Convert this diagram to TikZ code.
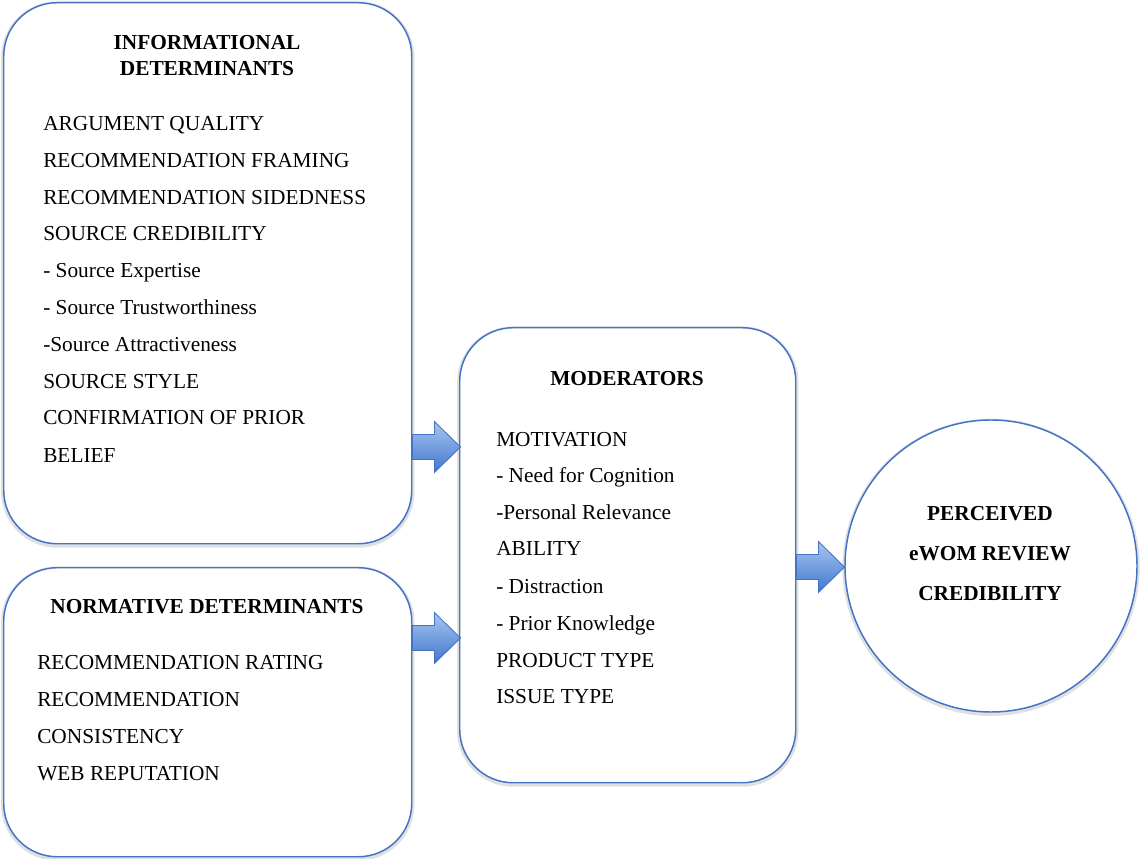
\documentclass[tikz,border=0pt]{standalone}
\usepackage{fontspec}
\setmainfont{Liberation Serif}
\definecolor{edge}{RGB}{68,114,196}
\definecolor{arrtop}{RGB}{165,198,240}
\definecolor{arrbot}{RGB}{66,118,205}
\begin{document}
\begin{tikzpicture}[x=0.75pt,y=-0.75pt,
  box/.style={draw=edge,line width=1.1pt,rounded corners=40pt,fill=white,
    inner sep=0pt,anchor=north west,
    preaction={draw=black!12,line width=4pt,transform canvas={yshift=-1pt}}},
  circ/.style={draw=edge,line width=1.1pt,circle,inner sep=0pt,fill=white,
    minimum size=219pt,
    preaction={draw=black!12,line width=4pt,transform canvas={yshift=-1pt}}},
  txt/.style={anchor=base west,inner sep=0pt,font=\fontsize{16}{19}\selectfont},
  ttl/.style={anchor=base,inner sep=0pt,font=\fontsize{16}{19}\selectfont\bfseries},
  arrowfill/.style={draw=edge,line width=0.6pt,top color=arrtop,bottom color=arrbot},
  blockarrow/.pic={\filldraw[arrowfill] (0,-12.5) -- (22,-12.5) -- (22,-25.5) -- (48,0) -- (22,25.5) -- (22,12.5) -- (0,12.5) -- cycle;}
]
\useasboundingbox (0,0) rectangle (1140,859);
% boxes
\node[box,minimum width=306pt,minimum height=405.75pt] (info) at (3,2) {};
\node[box,minimum width=306pt,minimum height=216.75pt] (norm) at (3,567) {};
\node[box,minimum width=252pt,minimum height=341.25pt] (mod) at (459,327) {};
\node[circ] (cred) at (991,566) {};
% block arrows
\coordinate (a1) at (info.east |- 0,447);
\coordinate (a2) at (norm.east |- 0,638);
\coordinate (a3) at (mod.east |- 0,567);
\pic at (a1) {blockarrow};
\pic at (a2) {blockarrow};
\pic at (a3) {blockarrow};
% informational
\node[ttl] (i0) at (207,50) {INFORMATIONAL};
\node[ttl] (i00) at (207,76) {DETERMINANTS};
\node[txt] (i1) at (43,131) {ARGUMENT QUALITY};
\node[txt] (i2) at (43,168) {RECOMMENDATION FRAMING};
\node[txt] (i3) at (43,205) {RECOMMENDATION SIDEDNESS};
\node[txt] (i4) at (43,241) {SOURCE CREDIBILITY};
\node[txt] (i5) at (43,278) {- Source Expertise};
\node[txt] (i6) at (43,315) {- Source Trustworthiness};
\node[txt] (i7) at (43,352) {-Source Attractiveness};
\node[txt] (i8) at (43,389) {SOURCE STYLE};
\node[txt] (i9) at (43,425) {CONFIRMATION OF PRIOR};
\node[txt] (i10) at (43,463) {BELIEF};
% normative
\node[ttl] (n0) at (207,613) {NORMATIVE DETERMINANTS};
\node[txt] (n1) at (37,669) {RECOMMENDATION RATING};
\node[txt] (n2) at (37,706) {RECOMMENDATION};
\node[txt] (n3) at (37,743) {CONSISTENCY};
\node[txt] (n4) at (37,780) {WEB REPUTATION};
% moderators
\node[ttl] (m0) at (627,386) {MODERATORS};
\node[txt] (m1) at (496,446) {MOTIVATION};
\node[txt] (m2) at (496,483) {- Need for Cognition};
\node[txt] (m3) at (496,519) {-Personal Relevance};
\node[txt] (m4) at (496,556) {ABILITY};
\node[txt] (m5) at (496,593) {- Distraction};
\node[txt] (m6) at (496,630) {- Prior Knowledge};
\node[txt] (m7) at (496,667) {PRODUCT TYPE};
\node[txt] (m8) at (496,703) {ISSUE TYPE};
% credibility
\node[ttl] (c1) at (990,520) {PERCEIVED};
\node[ttl] (c2) at (990,561) {eWOM REVIEW};
\node[ttl] (c3) at (990,600) {CREDIBILITY};
\end{tikzpicture}
\end{document}
